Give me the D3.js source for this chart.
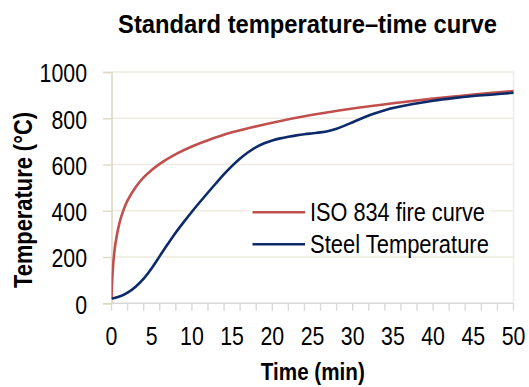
<!DOCTYPE html>
<html>
<head>
<meta charset="utf-8">
<script src="https://cdn.jsdelivr.net/npm/d3@7"></script>
<style>
  html, body { margin: 0; padding: 0; background: #fff; }
  svg { display: block; }
  text { font-family: "Liberation Sans", Arial, sans-serif; fill: #000; }
</style>
</head>
<body>
<svg id="chart" width="529" height="387"></svg>
<script>
// Time axis (minutes) and temperature axis (°C)
const xTickLabels = [0, 5, 10, 15, 20, 25, 30, 35, 40, 45, 50];
const xMinorTicks = d3.range(0, 51, 2);
const yTickLabels = [0, 200, 400, 600, 800, 1000];

// ISO 834 standard fire curve
const isoTime = [0, 0.1, 0.25, 0.5, 1, 1.5, 2, 3, 4, 5, 6, 8, 10, 12, 15, 20, 25, 30, 35, 40, 45, 50];
const isoTemp = [20, 108, 185, 261, 349, 404, 445, 502, 544, 576, 603, 645, 678, 705, 739, 781, 815, 842, 865, 885, 902, 918];

// Steel temperature
const steelTime = [0, 1, 2, 3, 4, 5, 6, 7, 8, 9, 10, 11, 12, 13, 14, 15, 16, 17, 18, 19, 20, 21, 22, 23, 24, 25, 26, 27, 28, 29, 30, 31, 32, 33, 34, 35, 37.5, 40, 42.5, 45, 47.5, 50];
const steelTemp = [20, 29, 46, 72, 107, 152, 204, 256, 306, 352, 396, 438, 479, 519, 558, 594, 626, 653, 675, 692, 704, 713, 720, 726, 731, 735, 739, 745, 755, 768, 783, 798, 812, 824, 835, 844, 862, 876, 887, 896, 903, 910];

const seriesNames = ["ISO 834 fire curve", "Steel Temperature"];
const seriesColors = ["#c0504d", "#0d2a6b"];

// narrow-face look: horizontal compression of the tick labels
const NARROW = 0.82;

const svg = d3.select("#chart");
const plotLeft = 111.5, plotRight = 513.5, plotTop = 72, plotBottom = 303.3;

const x = d3.scaleLinear().domain([0, 50]).range([plotLeft, plotRight]);
const y = d3.scaleLinear().domain([0, 1000]).range([plotBottom, plotTop]);

// places a text at (px, py), squeezed horizontally by sx
function placeText(sel, px, py, sx, rot) {
  sel.attr("transform", `translate(${px},${py})${rot ? ` rotate(${rot})` : ""} scale(${sx},1)`);
}

// horizontal gridlines
svg.append("g")
  .selectAll("line")
  .data(yTickLabels.filter(v => v > 0))
  .join("line")
  .attr("x1", plotLeft).attr("x2", plotRight)
  .attr("y1", d => y(d)).attr("y2", d => y(d))
  .attr("stroke", "#eeece1").attr("stroke-width", 1.4);

// right frame line
svg.append("line")
  .attr("x1", plotRight).attr("x2", plotRight)
  .attr("y1", plotTop).attr("y2", plotBottom)
  .attr("stroke", "#eeece1").attr("stroke-width", 1.4);

// x axis: minor ticks every 2 min, labels every 5 min
const xAxis = svg.append("g").attr("transform", `translate(0,${plotBottom})`);
xAxis.append("line")
  .attr("x1", plotLeft).attr("x2", plotRight)
  .attr("stroke", "#d9d9d9").attr("stroke-width", 1.4);
xAxis.selectAll("line.tick")
  .data(xMinorTicks)
  .join("line")
  .attr("class", "tick")
  .attr("x1", d => x(d)).attr("x2", d => x(d))
  .attr("y1", 0).attr("y2", 7.5)
  .attr("stroke", "#d9d9d9").attr("stroke-width", 1.4);
xAxis.selectAll("text")
  .data(xTickLabels)
  .join("text")
  .attr("text-anchor", "middle")
  .style("font-size", "26px")
  .text(d => d)
  .each(function (d) { placeText(d3.select(this), x(d), 42, NARROW); });

// y axis
const yAxis = svg.append("g")
  .attr("transform", `translate(${plotLeft},0)`)
  .call(d3.axisLeft(y).tickValues(yTickLabels).tickSize(8.5).tickPadding(15).tickFormat(d3.format("d")));
yAxis.select(".domain").attr("stroke", "#ddd9c3").attr("stroke-width", 1.6);
yAxis.selectAll(".tick line").attr("stroke", "#ddd9c3").attr("stroke-width", 1.4);
yAxis.selectAll(".tick text")
  .attr("fill", "#000")
  .attr("x", null).attr("dy", null)
  .attr("dominant-baseline", "central")
  .style("font-size", "26px")
  .style("font-family", "\"Liberation Sans\", Arial, sans-serif")
  .each(function () { placeText(d3.select(this), -24.5, 0.5, NARROW); });

// curves
svg.append("clipPath").attr("id", "plot-clip")
  .append("rect").attr("x", plotLeft).attr("y", plotTop - 5).attr("width", plotRight - plotLeft + 3).attr("height", plotBottom - plotTop + 5);

const line = d3.line()
  .x(d => x(d[0]))
  .y(d => y(d[1]))
  .curve(d3.curveCatmullRom.alpha(0.5));

const series = [
  d3.zip(isoTime, isoTemp),
  d3.zip(steelTime, steelTemp)
];

const curves = svg.append("g").attr("clip-path", "url(#plot-clip)");
curves.selectAll("path")
  .data(series)
  .join("path")
  .attr("d", line)
  .attr("fill", "none")
  .attr("stroke", (d, i) => seriesColors[i])
  .attr("stroke-width", 2.6)
  .attr("stroke-linejoin", "round");

// legend
const legendWidths = [175, 179];
const legend = svg.append("g");
legend.append("rect")
  .attr("x", 250).attr("y", 196).attr("width", 240).attr("height", 58)
  .attr("fill", "#fff");
const legendRows = legend.selectAll("g.row")
  .data(seriesNames)
  .join("g")
  .attr("class", "row")
  .attr("transform", (d, i) => `translate(0,${212.3 + i * 32})`);
legendRows.append("line")
  .attr("x1", 252.5).attr("x2", 305)
  .attr("stroke", (d, i) => seriesColors[i])
  .attr("stroke-width", 2.6);
legendRows.append("text")
  .style("font-size", "26px")
  .text(d => d)
  .each(function (d, i) {
    const s = legendWidths[i] / this.getComputedTextLength();
    placeText(d3.select(this), 310, 8.6, s);
  });

// titles, each squeezed to its set width
function titleText(label, px, py, width, size, rot) {
  const t = svg.append("text")
    .attr("text-anchor", "middle")
    .style("font-size", size + "px").style("font-weight", "bold")
    .text(label);
  placeText(t, px, py, width / t.node().getComputedTextLength(), rot);
  return t;
}
titleText("Standard temperature–time curve", 307.5, 33, 379, 26);
titleText("Time (min)", 312.8, 380, 104, 23);
titleText("Temperature (°C)", 32, 200, 176, 25, -90);
</script>
</body>
</html>
